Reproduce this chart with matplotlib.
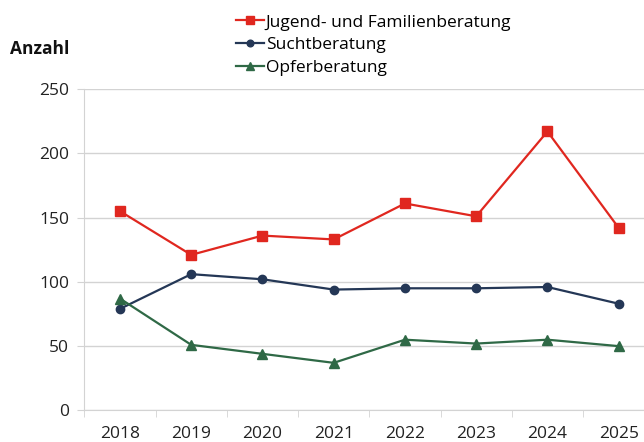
import numpy as np
import matplotlib
matplotlib.use("Agg")
import matplotlib.pyplot as plt

# === Data ===
years = ['2018', '2019', '2020', '2021', '2022', '2023', '2024', '2025']
jugend = [155, 121, 136, 133, 161, 151, 217, 142]
sucht = [79, 106, 102, 94, 95, 95, 96, 83]
opfer = [87, 51, 44, 37, 55, 52, 55, 50]

red = '#E0271F'
navy = '#243756'
green = '#2F6946'
grid_col = '#D3D3D3'

plt.rcParams['font.family'] = ['Open Sans', 'DejaVu Sans']

fig = plt.figure(figsize=(6.44, 4.42), dpi=100)
ax = fig.add_axes([0.131, 0.0715, 0.885, 0.727])

x = np.arange(len(years))
ax.plot(x, jugend, color=red, lw=1.6, marker='s', ms=7, label='Jugend- und Familienberatung')
ax.plot(x, sucht, color=navy, lw=1.6, marker='o', ms=6, label='Suchtberatung')
ax.plot(x, opfer, color=green, lw=1.6, marker='^', ms=6.5, label='Opferberatung')

ax.set_xlim(-0.5, len(years) - 0.5)
ax.set_ylim(0, 250)
ax.set_yticks(range(0, 251, 50))
ax.yaxis.grid(True, color=grid_col, lw=1)
ax.set_axisbelow(True)

ax.set_xticks(x)
ax.set_xticklabels(years)
ax.set_xticks(np.arange(-0.5, len(years), 1), minor=True)
ax.tick_params(axis='x', which='major', length=0, labelsize=12.5, pad=11, colors='#222222')
ax.tick_params(axis='x', which='minor', length=5, color=grid_col)
ax.tick_params(axis='y', length=5, color=grid_col, labelsize=12.5, pad=6, labelcolor='#222222')

for s in ['top', 'right']:
    ax.spines[s].set_visible(False)
for s in ['left', 'bottom']:
    ax.spines[s].set_color(grid_col)

fig.text(0.016, 0.878, 'Anzahl', fontsize=12.5, fontweight='bold', color='#111111')

leg = fig.legend(loc='upper left', bbox_to_anchor=(0.348, 0.995), frameon=False,
                 fontsize=12.5, handlelength=1.6, handletextpad=0.1,
                 labelspacing=0.38, borderaxespad=0.3, markerscale=0.8)

fig.savefig('out.png', dpi=100)
